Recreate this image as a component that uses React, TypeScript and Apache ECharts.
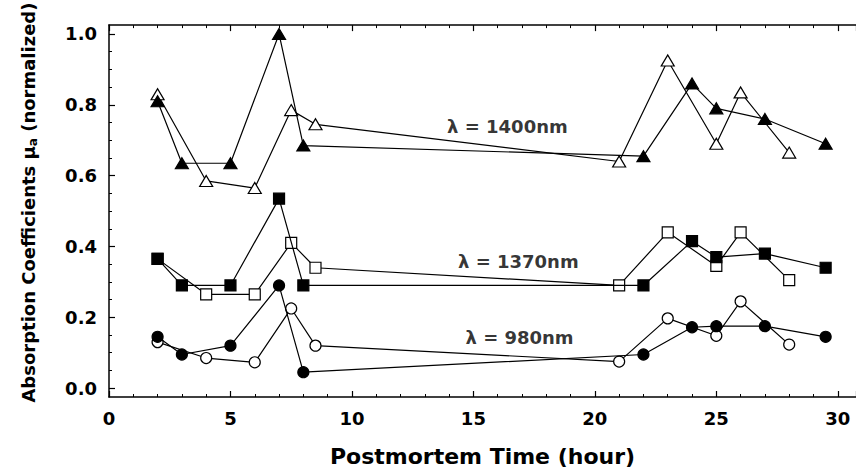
import React, { useEffect, useRef } from "react";
import * as echarts from "echarts";

// Postmortem time (hour) of each measurement
const hoursFilled = [2, 3, 5, 7, 8, 22, 24, 25, 27, 29.5];
const hoursOpen = [2, 4, 6, 7.5, 8.5, 21, 23, 25, 26, 28];

// λ = 1400 nm
const nm1400Filled = [0.81, 0.635, 0.635, 1.0, 0.685, 0.655, 0.86, 0.79, 0.76, 0.69];
const nm1400Open = [0.83, 0.585, 0.565, 0.785, 0.745, 0.64, 0.925, 0.69, 0.835, 0.665];
// λ = 1370 nm
const nm1370Filled = [0.365, 0.29, 0.29, 0.535, 0.29, 0.29, 0.415, 0.37, 0.38, 0.34];
const nm1370Open = [0.365, 0.265, 0.265, 0.41, 0.34, 0.29, 0.44, 0.345, 0.44, 0.305];
// λ = 980 nm
const nm980Filled = [0.145, 0.095, 0.12, 0.29, 0.045, 0.095, 0.172, 0.175, 0.175, 0.145];
const nm980Open = [0.13, 0.085, 0.073, 0.225, 0.12, 0.075, 0.197, 0.148, 0.245, 0.123];

// Axis ticks
const xTicks = [0, 5, 10, 15, 20, 25, 30];
const yMajorTicks = [0, 0.2, 0.4, 0.6, 0.8, 1.0];
const yMinorTicks = [0.05, 0.1, 0.15, 0.25, 0.3, 0.35, 0.45, 0.5, 0.55, 0.65, 0.7, 0.75, 0.85, 0.9, 0.95];

// Curve annotations
const annotationTexts = ["λ = 1400nm", "λ = 1370nm", "λ = 980nm"];
const annotationX = [16.4, 16.85, 16.9];
const annotationY = [0.74, 0.357, 0.142];

const FONT = "DejaVu Sans";

export default function App() {
  const ref = useRef<HTMLDivElement>(null);

  useEffect(() => {
    if (!ref.current) return;
    const chart = echarts.init(ref.current, undefined, { renderer: "svg" });

    const lineSeries = (
      name: string,
      xs: number[],
      ys: number[],
      symbol: string,
      size: number | number[],
      filled: boolean
    ) => ({
      type: "line",
      name,
      data: xs.map((x, i) => [x, ys[i]]),
      symbol,
      symbolSize: size,
      showAllSymbol: true,
      clip: false,
      z: filled ? 4 : 3,
      lineStyle: { color: "#000", width: 1.2 },
      itemStyle: { color: filled ? "#000" : "#fff", borderColor: "#000", borderWidth: 1.2 },
      emphasis: { disabled: true },
      silent: true,
    });

    const axisLine = () => ({ show: true, onZero: false, lineStyle: { color: "#000", width: 1.5 } });
    const majorTick = () => ({ show: true, inside: true, length: 6, lineStyle: { color: "#000", width: 1.2 } });
    const minorTick = () => ({ show: true, splitNumber: 5, length: 3, lineStyle: { color: "#000", width: 1 } });

    chart.setOption({
      animation: false,
      backgroundColor: "#fff",
      grid: { left: 109, top: 23, right: 0, bottom: 74 },
      xAxis: [
        {
          type: "value",
          position: "bottom",
          min: 0,
          max: 30.75,
          interval: 5,
          axisLine: axisLine(),
          axisTick: majorTick(),
          minorTick: minorTick(),
          axisLabel: {
            show: true,
            margin: 12,
            color: "#000",
            fontFamily: FONT,
            fontWeight: "bold",
            fontSize: 18,
            customValues: xTicks,
          },
          splitLine: { show: false },
          name: "Postmortem Time (hour)",
          nameLocation: "middle",
          nameGap: 48,
          nameTextStyle: { color: "#000", fontFamily: FONT, fontWeight: "bold", fontSize: 22 },
        },
        {
          type: "value",
          position: "top",
          min: 0,
          max: 30.75,
          interval: 5,
          axisLine: axisLine(),
          axisTick: majorTick(),
          minorTick: minorTick(),
          axisLabel: { show: false },
          splitLine: { show: false },
        },
      ],
      yAxis: [
        {
          type: "value",
          position: "left",
          min: -0.025,
          max: 1.025,
          axisLine: axisLine(),
          axisTick: { ...majorTick(), customValues: yMajorTicks },
          axisLabel: {
            show: true,
            margin: 12,
            color: "#000",
            fontFamily: FONT,
            fontWeight: "bold",
            fontSize: 18,
            customValues: yMajorTicks,
            formatter: (v: number) => v.toFixed(1),
          },
          splitLine: { show: false },
          name: "Absorption Coefficients μ{sub|a} (normalized)",
          nameLocation: "middle",
          nameGap: 70,
          nameRotate: 90,
          nameTextStyle: {
            color: "#000",
            fontFamily: FONT,
            fontWeight: "bold",
            fontSize: 18,
            lineHeight: 22,
            padding: [0, 0, 0, 17],
            rich: {
              sub: {
                color: "#000",
                fontFamily: FONT,
                fontWeight: "bold",
                fontSize: 12,
                lineHeight: 12,
                verticalAlign: "bottom",
              },
            },
          },
        },
        {
          type: "value",
          position: "left",
          min: -0.025,
          max: 1.025,
          axisLine: { show: false, onZero: false },
          axisTick: {
            show: true,
            inside: true,
            length: 3,
            customValues: yMinorTicks,
            lineStyle: { color: "#000", width: 1 },
          },
          axisLabel: { show: false },
          splitLine: { show: false },
        },
      ],
      series: [
        lineSeries("1400 open", hoursOpen, nm1400Open, "triangle", [13, 11], false),
        lineSeries("1400 filled", hoursFilled, nm1400Filled, "triangle", [13, 11], true),
        lineSeries("1370 open", hoursOpen, nm1370Open, "rect", 11, false),
        lineSeries("1370 filled", hoursFilled, nm1370Filled, "rect", 11, true),
        lineSeries("980 open", hoursOpen, nm980Open, "circle", 11, false),
        lineSeries("980 filled", hoursFilled, nm980Filled, "circle", 11, true),
        {
          type: "scatter",
          name: "annotations",
          data: annotationTexts.map((t, i) => ({ name: t, value: [annotationX[i], annotationY[i]] })),
          symbolSize: 1,
          itemStyle: { color: "rgba(0,0,0,0)" },
          silent: true,
          z: 5,
          label: {
            show: true,
            position: "inside",
            formatter: "{b}",
            color: "#000",
            fontFamily: FONT,
            fontWeight: "bold",
            fontSize: 18,
          },
        },
      ],
    });

    return () => chart.dispose();
  }, []);

  return (
    <div
      ref={ref}
      style={{ position: "absolute", left: 0, top: 0, width: 856, height: 472, background: "#fff" }}
    />
  );
}
